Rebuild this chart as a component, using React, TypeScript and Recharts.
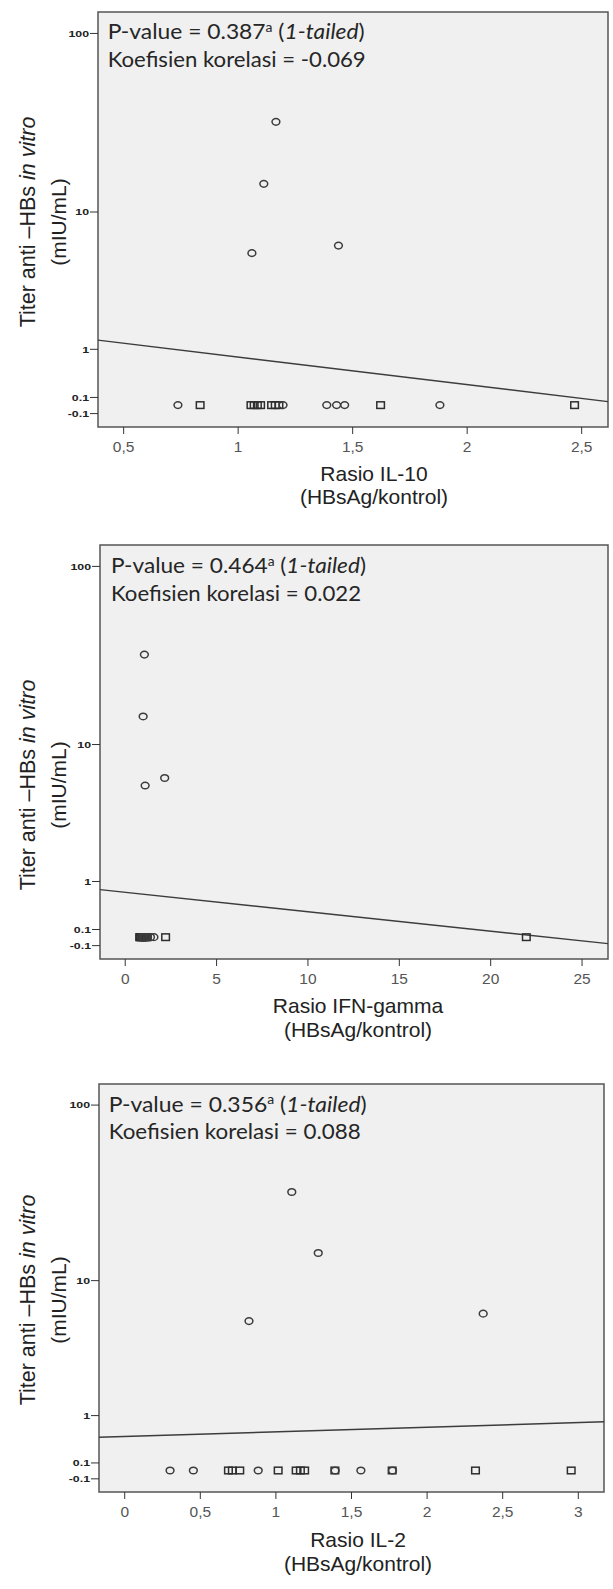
import React from 'react'
import {
  ScatterChart,
  Scatter,
  XAxis,
  YAxis,
  ReferenceArea,
  ReferenceLine,
  Label
} from 'recharts'

// Titer (mIU/mL) of the four samples above zero, same subjects in every plot
const raisedTiters = [32.7, 14.6, 5.6, 6.25]
const yTickTiters = [100, 10, 1, 0.1, -0.1]

// Rasio IL-10
const il10Raised = [1.165, 1.112, 1.06, 1.438]
const il10ZeroCircles = [0.737, 1.196, 1.387, 1.43, 1.465, 1.881]
const il10ZeroSquares = [0.834, 1.056, 1.07, 1.084, 1.098, 1.146, 1.162, 1.178, 1.622, 2.469]
const il10FitX = [0.388, 2.615]
const il10FitTiter = [1.24, 0.045]
const il10Ticks = [0.5, 1, 1.5, 2, 2.5]

// Rasio IFN-gamma
const ifnRaised = [1.05, 0.98, 1.09, 2.16]
const ifnZeroCircles = [0.88, 0.99, 1.1, 1.22, 1.38, 1.57]
const ifnZeroSquares = [0.79, 0.83, 0.87, 0.92, 0.97, 1.02, 1.08, 1.14, 1.2, 2.21, 21.95]
const ifnFitX = [-1.38, 26.42]
const ifnFitTiter = [0.807, -0.077]
const ifnTicks = [0, 5, 10, 15, 20, 25]

// Rasio IL-2
const il2Raised = [1.105, 1.28, 0.822, 2.371]
const il2ZeroCircles = [0.3, 0.454, 0.883, 1.392, 1.562, 1.771]
const il2ZeroSquares = [0.686, 0.712, 0.761, 1.015, 1.134, 1.162, 1.19, 1.39, 1.769, 2.32, 2.953]
const il2FitX = [-0.17, 3.17]
const il2FitTiter = [0.521, 0.849]
const il2Ticks = [0, 0.5, 1, 1.5, 2, 2.5, 3]

const pValues = ['0.387', '0.464', '0.356']
const correlations = ['-0.069', '0.022', '0.088']
const xTitles = ['Rasio IL-10', 'Rasio IFN-gamma', 'Rasio IL-2']

// SPSS "safe log" style axis: log10(titer + 1)
const toAxis = (titer: number) => Math.log10(titer + 1)
const yDomain = [-0.118, 2.12]
const yTicks = yTickTiters.map(toAxis)

const SANS = '"Liberation Sans", Arial, sans-serif'
const INK = '#222'

const OpenCircle = (props: any) => (
  <ellipse cx={props.cx} cy={props.cy} rx={3.9} ry={3.3} fill="none" stroke="#3c3c3c" strokeWidth={1.5} />
)
const OpenSquare = (props: any) => (
  <rect x={props.cx - 3.8} y={props.cy - 3.3} width={7.6} height={6.6} fill="none" stroke="#2e2e2e" strokeWidth={1.5} />
)

const YTick = (props: any) => {
  const { x, y, payload } = props
  const label = yTickTiters.find(v => Math.abs(toAxis(v) - payload.value) < 1e-9)
  return (
    <g transform={`translate(${x},${y}) scale(1.3,1)`}>
      <text textAnchor="end" dy="0.35em" fontSize={9.5} fontWeight="bold" fill={INK} fontFamily={SANS}>
        {label}
      </text>
    </g>
  )
}

const fmtComma = (v: number) => String(v).replace('.', ',')

interface PanelProps {
  idx: number
  top: number
  height: number
  plot: { left: number; right: number; top: number; bottom: number }
  xDomain: number[]
  xTicks: number[]
  raised: number[]
  zeroCircles: number[]
  zeroSquares: number[]
  fitX: number[]
  fitTiter: number[]
  note: { x: number; y: number; w1: number; w2: number }
  yTitleY: number
  xTitleX: number
  xTitleY: number
}

const Panel: React.FC<PanelProps> = p => {
  const circles = [
    ...p.raised.map((x, i) => ({ x, t: toAxis(raisedTiters[i]) })),
    ...p.zeroCircles.map(x => ({ x, t: toAxis(0) }))
  ]
  const squares = p.zeroSquares.map(x => ({ x, t: toAxis(0) }))
  const off = p.top

  const titles = () => (
    <g fontFamily={SANS} fill={INK}>
      <text
        x={28}
        y={p.yTitleY - off}
        transform={`rotate(-90 28 ${p.yTitleY - off})`}
        textAnchor="middle"
        dominantBaseline="central"
        fontSize={21.5}
      >
        Titer anti –HBs <tspan fontStyle="italic">in vitro</tspan>
      </text>
      <text
        x={58}
        y={p.yTitleY - off}
        transform={`rotate(-90 58 ${p.yTitleY - off})`}
        textAnchor="middle"
        dominantBaseline="central"
        fontSize={21}
      >
        (mIU/mL)
      </text>
      <text x={p.xTitleX} y={p.xTitleY - off} textAnchor="middle" fontSize={21}>
        {xTitles[p.idx]}
      </text>
      <text x={p.xTitleX} y={p.xTitleY + 23.5 - off} textAnchor="middle" fontSize={21}>
        (HBsAg/kontrol)
      </text>
      <g fontFamily='Lato, "Noto Sans", sans-serif' fill="#262626" fontSize={20.5}>
        <text x={p.note.x} y={p.note.y - off} textLength={p.note.w1} lengthAdjust="spacingAndGlyphs">
          P-value = {pValues[p.idx]}
          <tspan fontSize={12.5} dy={-7.5}>a</tspan>
          <tspan dy={7.5}> (</tspan>
          <tspan fontStyle="italic">1-tailed</tspan>)
        </text>
        <text x={p.note.x} y={p.note.y + 27.5 - off} textLength={p.note.w2} lengthAdjust="spacingAndGlyphs">
          Koefisien korelasi = {correlations[p.idx]}
        </text>
      </g>
    </g>
  )

  return (
    <div style={{ position: 'absolute', left: 0, top: p.top, width: 613, height: p.height }}>
      <ScatterChart
        width={613}
        height={p.height}
        margin={{
          top: p.plot.top - off,
          right: 613 - p.plot.right,
          bottom: p.height - (p.plot.bottom - off) - 40,
          left: p.plot.left - 60
        }}
      >
        <ReferenceArea
          x1={p.xDomain[0]}
          x2={p.xDomain[1]}
          y1={yDomain[0]}
          y2={yDomain[1]}
          fill="#f0f0f0"
          fillOpacity={1}
          stroke="#555"
          strokeWidth={1.5}
          ifOverflow="visible"
        />
        <XAxis
          type="number"
          dataKey="x"
          domain={p.xDomain}
          ticks={p.xTicks}
          interval={0}
          allowDataOverflow
          height={40}
          axisLine={false}
          tickSize={7}
          tickMargin={7}
          tickLine={{ stroke: '#333' }}
          tick={{ fontSize: 15.5, fill: '#555', fontFamily: SANS }}
          tickFormatter={fmtComma}
        >
          <Label content={titles} />
        </XAxis>
        <YAxis
          type="number"
          dataKey="t"
          domain={yDomain}
          ticks={yTicks}
          interval={0}
          allowDataOverflow
          width={60}
          axisLine={false}
          tickSize={8}
          tickMargin={1}
          tickLine={{ stroke: '#333' }}
          tick={<YTick />}
        />
        <ReferenceLine
          segment={[
            { x: p.fitX[0], y: toAxis(p.fitTiter[0]) },
            { x: p.fitX[1], y: toAxis(p.fitTiter[1]) }
          ]}
          stroke="#3c3c3c"
          strokeWidth={1.4}
          ifOverflow="visible"
        />
        <Scatter data={squares} shape={OpenSquare} isAnimationActive={false} />
        <Scatter data={circles} shape={OpenCircle} isAnimationActive={false} />
      </ScatterChart>
    </div>
  )
}

const App: React.FC = () => {
  return (
    <div style={{ position: 'absolute', left: 0, top: 0, width: 613, height: 1589, background: '#fff' }}>
      <Panel
        idx={0}
        top={0}
        height={515}
        plot={{ left: 98, right: 608, top: 12, bottom: 427 }}
        xDomain={[0.388, 2.615]}
        xTicks={il10Ticks}
        raised={il10Raised}
        zeroCircles={il10ZeroCircles}
        zeroSquares={il10ZeroSquares}
        fitX={il10FitX}
        fitTiter={il10FitTiter}
        note={{ x: 107.7, y: 39.3, w1: 257, w2: 258 }}
        yTitleY={222}
        xTitleX={374}
        xTitleY={480.5}
      />
      <Panel
        idx={1}
        top={515}
        height={530}
        plot={{ left: 100, right: 608, top: 545, bottom: 959 }}
        xDomain={[-1.38, 26.42]}
        xTicks={ifnTicks}
        raised={ifnRaised}
        zeroCircles={ifnZeroCircles}
        zeroSquares={ifnZeroSquares}
        fitX={ifnFitX}
        fitTiter={ifnFitTiter}
        note={{ x: 111, y: 573.3, w1: 255, w2: 250 }}
        yTitleY={785}
        xTitleX={358}
        xTitleY={1013}
      />
      <Panel
        idx={2}
        top={1045}
        height={544}
        plot={{ left: 99, right: 604, top: 1084, bottom: 1492 }}
        xDomain={[-0.17, 3.17]}
        xTicks={il2Ticks}
        raised={il2Raised}
        zeroCircles={il2ZeroCircles}
        zeroSquares={il2ZeroSquares}
        fitX={il2FitX}
        fitTiter={il2FitTiter}
        note={{ x: 108.7, y: 1111.7, w1: 258, w2: 252 }}
        yTitleY={1300}
        xTitleX={358}
        xTitleY={1547}
      />
    </div>
  )
}

export default App
